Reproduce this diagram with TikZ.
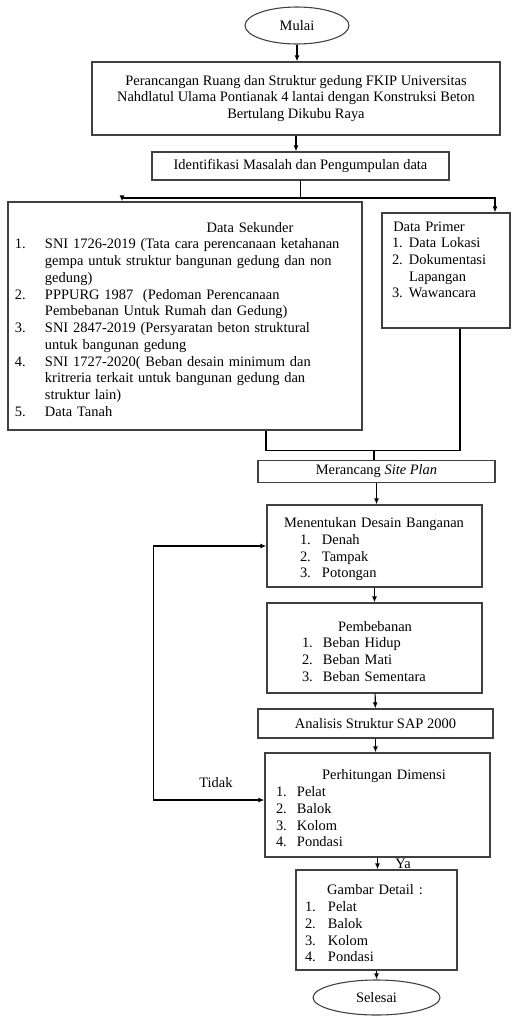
\documentclass[tikz,border=0pt]{standalone}
\usepackage{fontspec}
\setmainfont{Liberation Serif}
\usetikzlibrary{shapes.geometric,arrows.meta}

\newdimen\pxu
\pxu=0.83pt
% numbered line: indent, number width, number, text
\newcommand{\numitem}[4]{\par\leftskip=#1\hangindent=#2\hangafter=1\noindent\makebox[#2][l]{#3}#4\par}
% heading line centred on a given offset
\newcommand{\titleat}[2]{\par\leftskip=0pt\noindent\hspace*{#1}\makebox[0pt]{#2}\par}

\tikzset{
  flowbox/.style={draw=black!75, line width=0.9pt, inner sep=0pt, align=center,
    font=\fontsize{12}{13.9}\selectfont},
  listbox/.style={flowbox, align=left},
  terminal/.style={ellipse, draw=black!75, line width=0.9pt, inner sep=0pt,
    font=\fontsize{12}{13.9}\selectfont},
  label/.style={font=\fontsize{12}{13.9}\selectfont, inner sep=1pt},
  line/.style={line width=1pt},
  arrow/.style={line width=1pt, -{Latex[length=5pt,width=4pt]}},
  twoway/.style={line width=1pt, {Latex[length=5pt,width=4pt]}-{Latex[length=5pt,width=4pt]}},
}

\begin{document}
\begin{tikzpicture}[x=0.83pt,y=-0.83pt]
  \useasboundingbox (0,0) rectangle (512,1017);

  % start
  \node[terminal, minimum width=104\pxu, minimum height=37\pxu] (mulai) at (297,25.5) {Mulai};

  % title and problem
  \node[flowbox, minimum width=408\pxu, minimum height=73\pxu] (judul) at (296,98.5)
    {Perancangan Ruang dan Struktur gedung FKIP Universitas\\
     Nahdlatul Ulama Pontianak 4 lantai dengan Konstruksi Beton\\
     Bertulang Dikubu Raya};
  \node[flowbox, minimum width=297\pxu, minimum height=28\pxu] (identifikasi) at (300.5,166)
    {Identifikasi Masalah dan Pengumpulan data};

  % data
  \node[listbox, text width=354\pxu, minimum height=228\pxu] (sekunder) at (185,316) {%
    \titleat{242\pxu}{Data Sekunder}
    \numitem{7\pxu}{30\pxu}{1.}{SNI 1726-2019 (Tata cara perencanaan ketahanan\newline
      gempa untuk struktur bangunan gedung dan non\newline gedung)}
    \numitem{7\pxu}{30\pxu}{2.}{PPPURG 1987~ (Pedoman Perencanaan\newline
      Pembebanan Untuk Rumah dan Gedung)}
    \numitem{7\pxu}{30\pxu}{3.}{SNI 2847-2019 (Persyaratan beton struktural\newline
      untuk bangunan gedung}
    \numitem{7\pxu}{30\pxu}{4.}{SNI 1727-2020( Beban desain minimum dan\newline
      kritreria terkait untuk bangunan gedung dan\newline struktur lain)}
    \numitem{7\pxu}{30\pxu}{5.}{Data Tanah}};
  \node[listbox, text width=128\pxu, minimum height=115\pxu] (primer) at (446,270.5) {%
    \titleat{47\pxu}{Data Primer}
    \numitem{10\pxu}{17\pxu}{1.}{Data Lokasi}
    \numitem{10\pxu}{17\pxu}{2.}{Dokumentasi\newline Lapangan}
    \numitem{10\pxu}{17\pxu}{3.}{Wawancara}
    \vspace{12\pxu}\mbox{}};

  % design steps
  \node[flowbox, minimum width=237\pxu, minimum height=22\pxu] (siteplan) at (376.5,471.5)
    {Merancang \textit{Site Plan}};
  \node[listbox, text width=215\pxu, minimum height=82\pxu] (desain) at (374.5,546) {%
    \titleat{107\pxu}{Menentukan Desain Banganan}
    \numitem{33\pxu}{22\pxu}{1.}{Denah}
    \numitem{33\pxu}{22\pxu}{2.}{Tampak}
    \numitem{33\pxu}{22\pxu}{3.}{Potongan}};
  \node[listbox, text width=215\pxu, minimum height=90\pxu] (pembebanan) at (374.5,648) {%
    \titleat{108\pxu}{Pembebanan}
    \numitem{35\pxu}{21\pxu}{1.}{Beban Hidup}
    \numitem{35\pxu}{21\pxu}{2.}{Beban Mati}
    \numitem{35\pxu}{21\pxu}{3.}{Beban Sementara}};
  \node[flowbox, minimum width=235\pxu, minimum height=29\pxu] (analisis) at (375.5,723.5)
    {Analisis Struktur SAP 2000};
  \node[listbox, text width=225\pxu, minimum height=104\pxu] (dimensi) at (377.5,805) {%
    \titleat{119\pxu}{Perhitungan Dimensi}
    \numitem{11\pxu}{21\pxu}{1.}{Pelat}
    \numitem{11\pxu}{21\pxu}{2.}{Balok}
    \numitem{11\pxu}{21\pxu}{3.}{Kolom}
    \numitem{11\pxu}{21\pxu}{4.}{Pondasi}};
  \node[listbox, text width=161\pxu, minimum height=100\pxu] (detail) at (376.5,920) {%
    \titleat{79\pxu}{Gambar Detail :}
    \numitem{9\pxu}{23\pxu}{1.}{Pelat}
    \numitem{9\pxu}{23\pxu}{2.}{Balok}
    \numitem{9\pxu}{23\pxu}{3.}{Kolom}
    \numitem{9\pxu}{23\pxu}{4.}{Pondasi}};

  % end
  \node[terminal, minimum width=127\pxu, minimum height=35\pxu] (selesai) at (376.5,997.5) {Selesai};

  % connectors
  \draw[arrow] (mulai.south) -- (mulai.south |- judul.north);
  \draw[arrow] (judul.south) -- (judul.south |- identifikasi.north);
  \coordinate (split) at (identifikasi.south |- 0,198);
  \draw[line] (identifikasi.south) -- (split);
  \draw[arrow] (split) -| ([xshift=-63\pxu]sekunder.north);
  \draw[arrow] (split) -| ([xshift=49\pxu]primer.north);
  \coordinate (join) at (374,450);
  \draw[line] ([xshift=81\pxu]sekunder.south) -- ++(0,20) -| ([xshift=14\pxu]primer.south);
  \draw[line] (join) -- (join |- siteplan.north);
  \draw[arrow] (siteplan.south) -- (siteplan.south |- desain.north);
  \draw[arrow] (desain) -- (pembebanan);
  \draw[arrow] (pembebanan) -- (analisis);
  \draw[arrow] (analisis) -- (analisis |- dimensi.north);
  \draw[arrow] (dimensi) -- (dimensi |- detail.north);
  \draw[arrow] (detail) -- (selesai);
  \draw[twoway] ([yshift=5\pxu]dimensi.west) -- ++(-111,0) |- (desain.west);

  % labels
  \node[label] (tidak) at (216,783) {Tidak};
  \node[label] (ya) at (403,864) {Ya};

\end{tikzpicture}
\end{document}
